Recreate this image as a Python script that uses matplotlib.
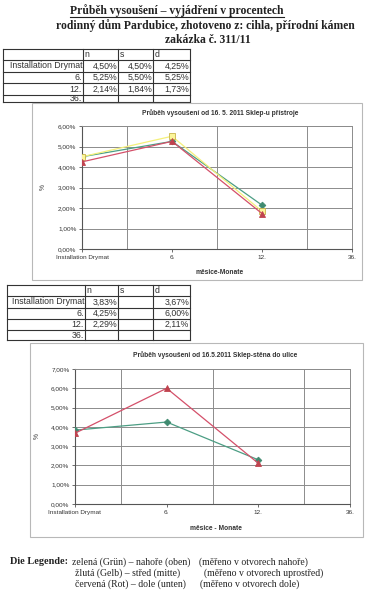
import matplotlib
matplotlib.use("Agg")
import matplotlib.pyplot as plt
from matplotlib.patches import Rectangle
from matplotlib.ticker import FuncFormatter

W, H = 368, 600

# ---------------- data ----------------
categories = ["Installation Drymat", "6.", "12.", "36."]
series_names = ["n", "s", "d"]

# chart 1 (Sklep-u přístroje)
c1_n = [4.50, 5.25, 2.14]
c1_s = [4.50, 5.50, 1.84]
c1_d = [4.25, 5.25, 1.73]
# chart 2 (Sklep-stěna do ulice)
c2_n = [3.83, 4.25, 2.29]
c2_s = [None, None, None]
c2_d = [3.67, 6.00, 2.11]

title_lines = ["Průběh vysoušení – vyjádření v procentech",
               "rodinný dům Pardubice, zhotoveno z: cihla, přírodní kámen",
               "zakázka č. 311/11"]
chart1_title = "Průběh vysoušení od 16. 5. 2011 Sklep-u přístroje"
chart2_title = "Průběh vysoušeni od 16.5.2011 Sklep-stěna do ulice"
chart1_xlabel = "měsice-Monate"
chart2_xlabel = "měsice - Monate"
chart1_ymax = 6
chart2_ymax = 7

legend_rows = [("zelená (Grün) – nahoře (oben)", "(měřeno v otvorech nahoře)"),
               ("žlutá (Gelb) – střed (mitte)", "(měřeno v otvorech uprostřed)"),
               ("červená (Rot) – dole (unten)", "(měřeno v otvorech dole)")]

GREEN = "#4c9e84"
GREEN_M = "#3f8a70"
YELLOW = "#f4f07a"
YELLOW_M = "#fbf59a"
YELLOW_E = "#c9b44a"
RED = "#d4506a"
RED_M = "#c0434f"

SANS = ["Liberation Sans", "DejaVu Sans"]
SERIF = ["Liberation Serif", "DejaVu Serif"]

fig = plt.figure(figsize=(W / 100, H / 100), dpi=100)
fig.patch.set_facecolor("white")

bg = fig.add_axes([0, 0, 1, 1])
bg.set_xlim(0, W)
bg.set_ylim(H, 0)
bg.axis("off")


def rect(x0, y0, x1, y1):
    return [x0 / W, 1 - y1 / H, (x1 - x0) / W, (y1 - y0) / H]


def pct(v):
    return ("%.2f%%" % v).replace(".", ",")


# ---------------- page titles ----------------
t1 = bg.text(177, 10.5, title_lines[0], ha="center", va="center",
             family=SERIF, fontweight="bold", fontsize=8.4, color="#222222")
bg.text(205, 25.5, title_lines[1], ha="center", va="center",
        family=SERIF, fontweight="bold", fontsize=8.4, color="#222222")
bg.text(208, 40, title_lines[2], ha="center", va="center",
        family=SERIF, fontweight="bold", fontsize=8.4, color="#222222")


# ---------------- tables ----------------
def draw_table(xs, ys, rows):
    lw = 0.8
    for y in ys:
        bg.plot([xs[0], xs[-1]], [y, y], color="#333333", lw=lw)
    for x in xs:
        bg.plot([x, x], [ys[0], ys[-1]], color="#333333", lw=lw)
    ty = (ys[0] + ys[1]) / 2
    for j, name in enumerate(series_names):
        bg.text(xs[j + 1] + 1.5, ty, name, ha="left", va="center",
                family=SANS, fontsize=6.3, color="#333333")
    for i, (lab, vals) in enumerate(rows):
        cy = (ys[i + 1] + ys[i + 2]) / 2
        bg.text(xs[1] - 1.0, cy, lab, ha="right", va="center",
                family=SANS, fontsize=6.3, color="#333333")
        for j, v in enumerate(vals):
            if v is not None:
                bg.text(xs[j + 2] - 1.0, cy, pct(v), ha="right", va="center",
                        family=SANS, fontsize=6.3, color="#333333")


rows1 = [(categories[k], [c1_n[k] if k < 3 else None,
                          c1_s[k] if k < 3 else None,
                          c1_d[k] if k < 3 else None]) for k in range(4)]
rows2 = [(categories[k], [c2_n[k] if k < 3 else None,
                          c2_s[k] if k < 3 else None,
                          c2_d[k] if k < 3 else None]) for k in range(4)]
draw_table([3, 83, 118, 153, 190], [49, 60, 72, 83, 95, 102], rows1)
draw_table([7, 85, 118, 153, 190], [285, 296, 308, 319, 330, 340], rows2)


# ---------------- charts ----------------
def chart(box, plot, title, xlabel, ymax, series, title_y, xl_y, pct_x):
    bx0, by0, bx1, by1 = box
    bg.add_patch(Rectangle((bx0, by0), bx1 - bx0, by1 - by0, facecolor="white",
                           edgecolor="#b8b8b8", lw=0.8, zorder=3))
    ax = fig.add_axes(rect(*plot))
    ax.set_zorder(5)
    ax.patch.set_alpha(0)
    ax.set_xlim(0, len(categories) - 1)
    ax.set_ylim(0, ymax)
    ax.set_yticks(range(0, ymax + 1))
    ax.yaxis.set_major_formatter(FuncFormatter(lambda v, p: pct(v)))
    ax.set_xticks(range(len(categories)))
    ax.set_xticklabels(categories)
    ax.set_xticks([k + 0.5 for k in range(len(categories) - 1)], minor=True)
    ax.grid(True, which="major", axis="y", color="#8c8c8c", lw=0.7)
    ax.grid(True, which="minor", axis="x", color="#8c8c8c", lw=0.7)
    ax.tick_params(axis="both", which="major", labelsize=4.6, length=2,
                   width=0.6, color="#555555", labelcolor="#333333", pad=2)
    ax.tick_params(axis="x", which="minor", length=0)
    for lab in ax.get_xticklabels() + ax.get_yticklabels():
        lab.set_family(SANS)
    for s in ["top", "right"]:
        ax.spines[s].set_color("#8c8c8c")
        ax.spines[s].set_linewidth(0.7)
    for s in ["left", "bottom"]:
        ax.spines[s].set_color("#555555")
        ax.spines[s].set_linewidth(0.8)
    xs = list(range(3))
    for vals, color, mk, mfc, mec, ms in series:
        if all(v is None for v in vals):
            continue
        ax.plot(xs, vals, color=color, lw=0.9, marker=mk, markersize=ms,
                markerfacecolor=mfc, markeredgecolor=mec, markeredgewidth=0.6,
                zorder=4)
    cx = (plot[0] + plot[2]) / 2
    bg.text(cx + 3, title_y, title, ha="center", va="center", family=SANS,
            fontweight="bold", fontsize=4.8, color="#333333", zorder=6)
    bg.text(cx + 3, xl_y, xlabel, ha="center", va="center", family=SANS,
            fontweight="bold", fontsize=4.8, color="#333333", zorder=6)
    bg.text(pct_x, (plot[1] + plot[3]) / 2, "%", ha="center", va="center",
            family=SANS, fontsize=4.8, rotation=90, color="#333333", zorder=6)
    return ax


s1 = [(c1_n, GREEN, "D", GREEN_M, GREEN_M, 3.4),
      (c1_s, YELLOW, "s", YELLOW_M, YELLOW_E, 4.4),
      (c1_d, RED, "^", RED_M, RED_M, 4.4)]
s2 = [(c2_n, GREEN, "D", GREEN_M, GREEN_M, 3.4),
      (c2_s, YELLOW, "s", YELLOW_M, YELLOW_E, 4.4),
      (c2_d, RED, "^", RED_M, RED_M, 4.4)]

chart((32, 103, 362, 280), (82, 126, 352, 249), chart1_title, chart1_xlabel,
      chart1_ymax, s1, 113, 272, 43)
chart((30, 343, 363, 537), (75, 369, 350, 504), chart2_title, chart2_xlabel,
      chart2_ymax, s2, 355, 528, 37)

# ---------------- legend text ----------------
ly = [562, 573, 584]
bg.text(10, ly[0], "Die Legende:", ha="left", va="center", family=SERIF,
        fontweight="bold", fontsize=7.4, color="#222222")
xcol2 = [72, 75, 75]
xcol3 = [199, 204, 200]
for i, (a, b) in enumerate(legend_rows):
    bg.text(xcol2[i], ly[i], a, ha="left", va="center", family=SERIF,
            fontsize=7.0, color="#222222")
    bg.text(xcol3[i], ly[i], b, ha="left", va="center", family=SERIF,
            fontsize=7.0, color="#222222")

# underline for the main heading
fig.canvas.draw()
bb = t1.get_window_extent(renderer=fig.canvas.get_renderer())
yline = H - bb.y0 + 0.5
bg.plot([bb.x0, bb.x1], [yline, yline], color="#222222", lw=0.8)

fig.savefig("out.png", dpi=100, facecolor="white")
